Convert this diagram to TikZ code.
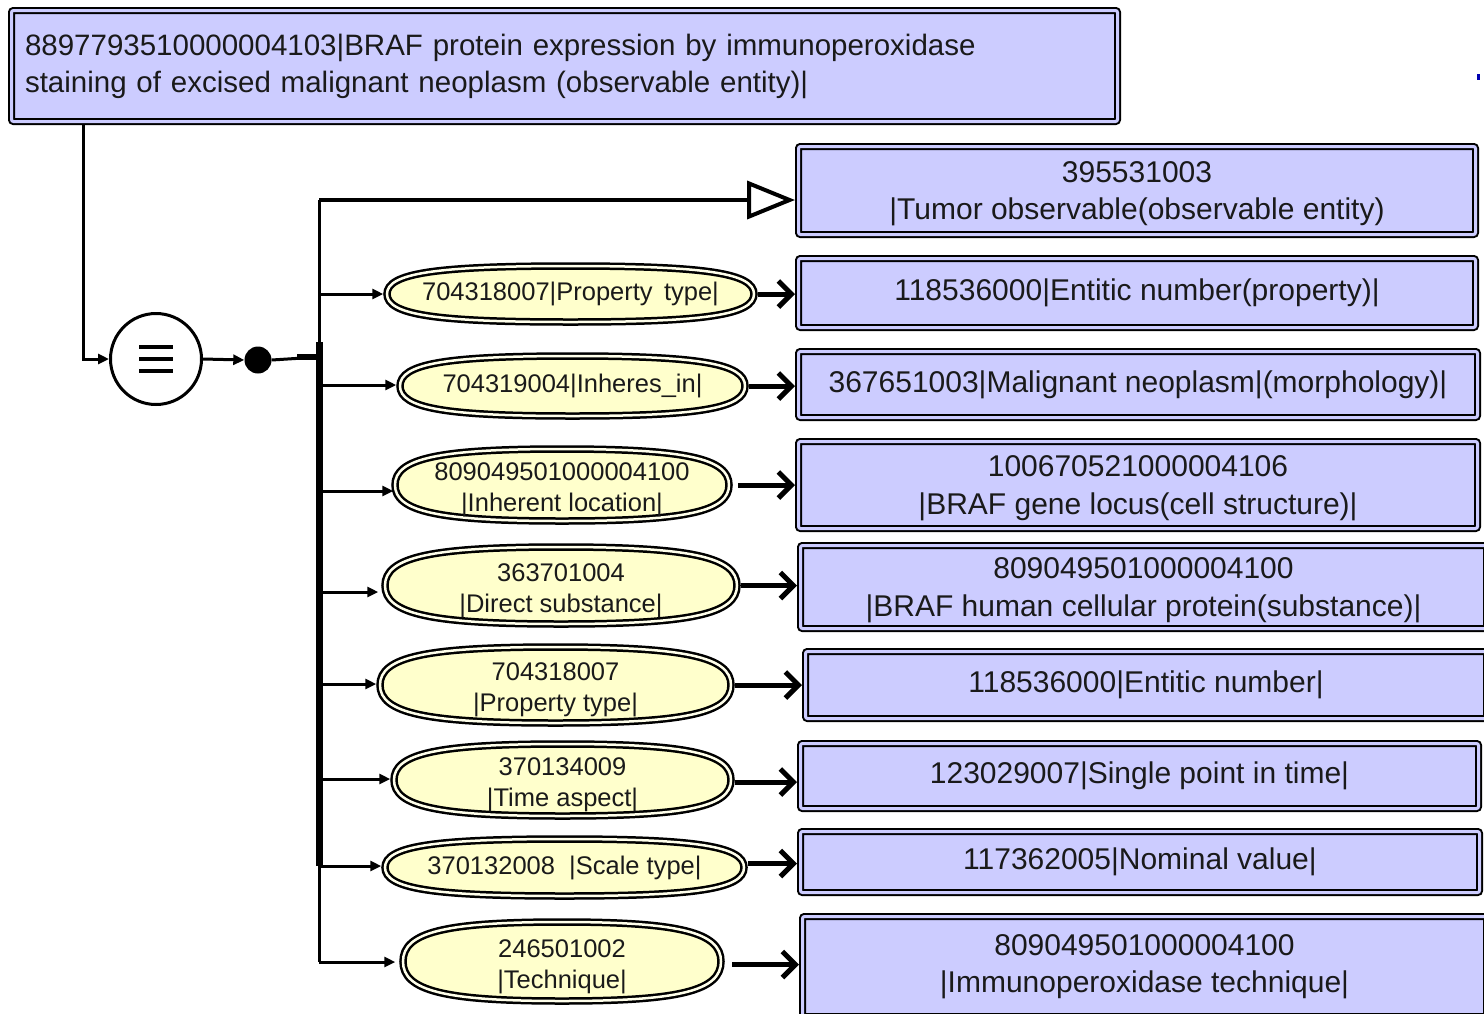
\documentclass[tikz,border=0pt]{standalone}
\usepackage{fontspec}
\setmainfont{Liberation Sans}
\usetikzlibrary{shapes.geometric,arrows.meta,calc}
\pgfdeclarelayer{background}
\pgfsetlayers{background,main}
\definecolor{boxfill}{HTML}{CCCCFF}
\definecolor{ellfill}{HTML}{FFFFCC}
\definecolor{txt}{HTML}{1A1A1A}
\newcommand{\ovk}{0.74}
\newcommand{\epad}{\rule{0pt}{28pt}}
\newcommand{\bpad}{\rule{0pt}{27pt}}
\newcommand{\ovalshape}[1]{%
  \draw[ovalline] (#1.west) .. controls ($(#1.west)!\ovk!(#1.north west)$) and ($(#1.north)!\ovk!(#1.north west)$) .. (#1.north)
   .. controls ($(#1.north)!\ovk!(#1.north east)$) and ($(#1.east)!\ovk!(#1.north east)$) .. (#1.east)
   .. controls ($(#1.east)!\ovk!(#1.south east)$) and ($(#1.south)!\ovk!(#1.south east)$) .. (#1.south)
   .. controls ($(#1.south)!\ovk!(#1.south west)$) and ($(#1.west)!\ovk!(#1.south west)$) .. (#1.west) -- cycle;}
\begin{document}
\begin{tikzpicture}[x=1pt,y=-1pt,
  conbox/.style={draw=black, double=boxfill, double distance=3pt, line width=2pt, fill=boxfill, rounded corners=2pt, inner sep=0pt, outer sep=3.5pt, align=center, text=txt, font=\fontsize{30}{37.5}\selectfont},
  relell/.style={rectangle, inner sep=0pt, outer sep=0pt, align=center, text=txt, font=\fontsize{25.5}{31}\selectfont},
  ovalline/.style={draw=black, double=ellfill!40!white, double distance=2.5pt, line width=2.5pt, fill=ellfill},
  conn/.style={line width=3pt},
  tipS/.style={-{Triangle[length=11pt,width=10pt]}, shorten >=3.75pt},
  bigarr/.style={line width=5pt, -{Straight Barb[length=13pt,width=26pt]}, shorten <=3.75pt},
]
\useasboundingbox (0,0) rectangle (1484,1013);

% top concept
\node[conbox, minimum width=1106pt, minimum height=111pt, align=left, text width=1079pt, font=\fontsize{29.5}{37}\selectfont] (top) at (564.5,66)
  {8897793510000004103|BRAF protein expression by immunoperoxidase\\staining of excised malignant neoplasm (observable entity)|};

% right concepts
\node[conbox, minimum width=677pt, minimum height=88pt] (r1) at (1137,190.5) {\bpad395531003\\|Tumor observable(observable entity)};
\node[conbox, minimum width=677pt, minimum height=69pt] (r2) at (1137,293) {118536000|Entitic number(property)|};
\node[conbox, minimum width=679pt, minimum height=66pt] (r3) at (1138,384.5) {367651003|Malignant neoplasm|(morphology)|};
\node[conbox, minimum width=679pt, minimum height=87pt] (r4) at (1138,485) {\bpad100670521000004106\\|BRAF gene locus(cell structure)|};
\node[conbox, minimum width=686pt, minimum height=83pt] (r5) at (1143.5,587) {\bpad809049501000004100\\|BRAF human cellular protein(substance)|};
\node[conbox, minimum width=681pt, minimum height=67pt] (r6) at (1146,685) {118536000|Entitic number|};
\node[conbox, minimum width=678pt, minimum height=65pt] (r7) at (1139.5,776) {123029007|Single point in time|};
\node[conbox, minimum width=679pt, minimum height=61pt] (r8) at (1140,862) {117362005|Nominal value|};
\node[conbox, minimum width=684pt, minimum height=100pt] (r9) at (1144.5,966.5) {809049501000004100\\|Immunoperoxidase technique|};

% relation ovals (text nodes; outlines drawn on background layer)
\node[relell, minimum width=367pt, minimum height=56pt] (e1) at (570.5,294) {704318007|Property \,type|};
\node[relell, minimum width=345pt, minimum height=60pt] (e2) at (572.5,386) {704319004|Inheres\_in|};
\node[relell, minimum width=334pt, minimum height=72pt] (e3) at (562,485) {\epad809049501000004100\\|Inherent location|};
\node[relell, minimum width=352pt, minimum height=77pt] (e4) at (561,585.5) {\epad363701004\\|Direct substance|};
\node[relell, minimum width=351pt, minimum height=76pt] (e5) at (555.5,685) {\epad704318007\\|Property type|};
\node[relell, minimum width=337pt, minimum height=72pt] (e6) at (562.5,780) {\epad370134009\\|Time aspect|};
\node[relell, minimum width=359pt, minimum height=57pt] (e7) at (564.5,867.5) {370132008 \ |Scale type|};
\node[relell, minimum width=318pt, minimum height=79pt] (e8) at (562,961.5) {\epad246501002\\|Technique|};
\begin{pgfonlayer}{background}
\foreach \e in {e1,e2,e3,e4,e5,e6,e7,e8} {\ovalshape{\e}}
\end{pgfonlayer}

% equivalence circle and conjunction dot
\node[circle, draw=black, line width=3pt, fill=white, minimum size=91pt, inner sep=0pt] (eq) at (156,359) {};
\foreach \dy in {-12,0,12}
  \draw[line width=4.5pt] ([xshift=-17pt,yshift=\dy pt]eq.center) -- ++(34,0);
\node[circle, fill=black, minimum size=27pt, inner sep=0pt] (dot) at (258,360) {};

% connectors
\draw[conn, -{Triangle[length=11pt,width=10pt]}] ([xshift=75pt]top.south west) |- (eq.west);
\draw[conn, -{Triangle[length=11pt,width=10pt]}] (eq.east) -- (dot.west);
\coordinate (bj) at (319,357);
\draw[conn] (dot.east) -- (bj);
\draw[line width=6pt] ([xshift=-22pt]bj) -- (bj);

\coordinate (bt) at (319,200);
\coordinate (bb) at (319,962);
\coordinate (tk1) at (319,342);
\coordinate (tk2) at (319,866);
\draw[conn] (bt) -- (bb);
\draw[line width=7pt] (tk1) -- (tk2);

\draw[line width=3.5pt, -{Triangle[open, length=48pt, width=38pt, line width=4pt]}] (bt) -- (bt -| r1.west);

\coordinate (b1) at (319,294);
\coordinate (b2) at (319,385);
\coordinate (b3) at (319,491);
\coordinate (b4) at (319,592);
\coordinate (b5) at (319,684);
\coordinate (b6) at (319,779);
\coordinate (b7) at (319,866);
\coordinate (b8) at (319,962);
\draw[conn, tipS] (b1) -- (b1 -| e1.west);
\draw[conn, tipS] (b2) -- (b2 -| e2.west);
\draw[conn, tipS] (b3) -- ([xshift=2pt]b3 -| e3.west);
\draw[conn, tipS] (b4) -- ([xshift=-3pt]b4 -| e4.west);
\draw[conn, tipS] (b5) -- (b5 -| e5.west);
\draw[conn, tipS] (b6) -- (b6 -| e6.west);
\draw[conn, tipS] (b7) -- (b7 -| e7.west);
\draw[conn, tipS] (b8) -- ([xshift=-4pt]b8 -| e8.west);

\draw[bigarr] (e1.east) -- (e1.east -| r2.west);
\draw[bigarr] (e2.east) -- (e2.east -| r3.west);
\draw[bigarr, shorten <=9pt] (e3.east) -- (e3.east -| r4.west);
\draw[bigarr] (e4.east) -- (e4.east -| r5.west);
\draw[bigarr] (e5.east) -- (e5.east -| r6.west);
\draw[bigarr] ([yshift=-2pt]e6.east) -- ([yshift=-2pt]e6.east -| r7.west);
\draw[bigarr] ([yshift=4pt]e7.east) -- ([yshift=4pt]e7.east -| r8.west);
\draw[bigarr, shorten <=11pt] ([yshift=-3pt]e8.east) -- ([yshift=-3pt]e8.east -| r9.west);

\fill[blue!70!black] (1477,74) rectangle (1480,80);
\end{tikzpicture}
\end{document}
